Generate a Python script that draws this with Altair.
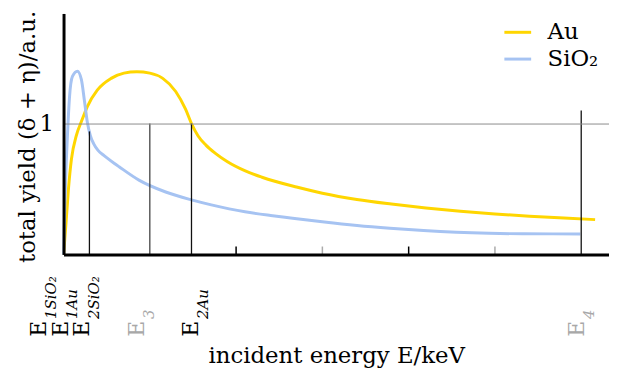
import altair as alt
import pandas as pd

# ---- data ----
au_E = [0, 0.015, 0.034, 0.057, 0.092, 0.149, 0.207, 0.276, 0.391, 0.552, 0.70, 0.85,
        1.0, 1.15, 1.30, 1.414, 1.483, 1.56, 1.65, 1.76, 1.90, 2.10, 2.30, 2.70, 3.0,
        3.4, 3.8, 4.2, 4.6, 5.0, 5.4, 5.8, 6.161]
au_Y = [0, 0.12, 0.29, 0.50, 0.73, 0.91, 1.015, 1.13, 1.255, 1.345, 1.385, 1.395,
        1.385, 1.345, 1.245, 1.11, 1.0, 0.905, 0.835, 0.772, 0.708, 0.64, 0.59, 0.515, 0.468,
        0.42, 0.385, 0.355, 0.33, 0.309, 0.292, 0.278, 0.266]

si_E = [0, 0.012, 0.023, 0.046, 0.069, 0.103, 0.161, 0.207, 0.241, 0.276, 0.31, 0.35,
        0.40, 0.47, 0.586, 0.644, 0.874, 1.184, 1.483, 1.713, 2.103, 2.4, 2.632, 3.023,
        3.402, 3.782, 4.172, 4.552, 4.931, 5.322, 5.989]
si_Y = [0, 0.30, 0.55, 0.92, 1.20, 1.36, 1.40, 1.335, 1.18, 1.01, 0.91, 0.845,
        0.795, 0.755, 0.697, 0.670, 0.568, 0.477, 0.417, 0.379, 0.326, 0.298, 0.279, 0.248,
        0.222, 0.201, 0.183, 0.170, 0.162, 0.158, 0.157]

materials = ["Au", "SiO\u2082"]

# vertical marker lines
vl_E = [0.30, 1.0, 1.483, 6.0]
vl_top = [0.94, 1.0, 1.0, 1.10]
vl_kind = ["dark", "mid", "dark", "dark"]

# x axis ticks
tick_E = [2, 3, 4, 5]
tick_kind = ["major", "minor", "major", "minor"]

# energy labels
lab_E = [-0.201, 0.046, 0.293, 0.937, 1.557, 6.029]
lab_main = ["E", "E", "E", "E", "E", "E"]
lab_sub = ["1SiO\u2082", "1Au", "2SiO\u2082", "3", "2Au", "4"]
lab_kind = ["dark", "dark", "dark", "light", "dark", "light"]

# ---- build tables ----
curves = pd.DataFrame(
    {"E": au_E + si_E,
     "Y": au_Y + si_Y,
     "material": [materials[0]] * len(au_E) + [materials[1]] * len(si_E),
     "order": list(range(len(au_E))) + list(range(len(si_E)))}
)
vlines = pd.DataFrame({"E": vl_E, "Y": [0] * len(vl_E), "top": vl_top, "kind": vl_kind})
ticks = pd.DataFrame({"E": tick_E, "kind": tick_kind})
labels = pd.DataFrame({"E": lab_E, "main": lab_main, "sub": lab_sub, "kind": lab_kind})

FONT = "DejaVu Serif"
GOLD = "#ffd600"
BLUE = "#a6c3f2"

xscale = alt.Scale(domain=[0, 6.322], nice=False, zero=False)
yscale = alt.Scale(domain=[0, 1.841], nice=False, zero=False)

xaxis = alt.Axis(
    domain=True, domainColor="black", domainWidth=3, labels=False, ticks=False, grid=False,
    title="incident energy E/keV", titleFont=FONT, titleFontSize=23, titleFontWeight="normal",
    titleColor="black", titleX=275, titleY=109, titleBaseline="alphabetic", titleAlign="center",
    zindex=1,
)
yaxis = alt.Axis(
    values=[1], domain=True, domainColor="black", domainWidth=3, ticks=False, tickSize=0,
    labelPadding=10, labelFont=FONT, labelFontSize=23, labelColor="black",
    grid=True, gridColor="#8c8c8c", gridWidth=1,
    title="total yield (\u03b4 + \u03b7)/a.u.", titleFont=FONT, titleFontSize=23,
    titleFontWeight="normal", titleColor="black", titleX=-29, titleY=124, titleAngle=270,
    titleAlign="center", titleBaseline="alphabetic", zindex=1,
)

X = alt.X("E:Q", scale=xscale, axis=xaxis)

lines = alt.Chart(curves).mark_line(strokeWidth=3, interpolate="monotone").encode(
    x=X,
    y=alt.Y("Y:Q", scale=yscale, axis=yaxis),
    color=alt.Color(
        "material:N",
        scale=alt.Scale(domain=materials, range=[GOLD, BLUE]),
        legend=alt.Legend(
            title=None, orient="none", legendX=443, legendY=4, padding=0,
            symbolType="stroke", symbolSize=729, symbolStrokeWidth=3,
            labelFont=FONT, labelFontSize=23, labelColor="black", labelOffset=15,
            rowPadding=0,
        ),
    ),
    order="order:Q",
)

rules = alt.Chart(vlines).mark_rule(strokeWidth=1.3).encode(
    x=X,
    y=alt.Y("Y:Q", scale=yscale, axis=yaxis),
    y2="top:Q",
    stroke=alt.Stroke("kind:N", scale=alt.Scale(domain=["dark", "mid"], range=["#111111", "#444444"]), legend=None),
)

tickmarks = alt.Chart(ticks).mark_rule(strokeWidth=1.5).encode(
    x=X,
    y=alt.value(243),
    y2=alt.value(235),
    stroke=alt.Stroke("kind:N", scale=alt.Scale(domain=["major", "minor"], range=["#000000", "#aaaaaa"]), legend=None),
)

labcolor = alt.Color("kind:N", scale=alt.Scale(domain=["dark", "light"], range=["#000000", "#a8a8a8"]), legend=None)

lab_main_layer = alt.Chart(labels).mark_text(
    angle=270, align="left", baseline="alphabetic", font=FONT, fontSize=22
).encode(x=X, y=alt.value(326), text="main:N", fill=labcolor)

lab_sub_layer = alt.Chart(labels).mark_text(
    angle=270, align="left", baseline="alphabetic", font=FONT, fontSize=15,
    fontStyle="italic", dx=18, dy=10
).encode(x=X, y=alt.value(326), text="sub:N", fill=labcolor)

chart = alt.layer(lines, rules, tickmarks, lab_main_layer, lab_sub_layer).resolve_scale(
    color="independent", stroke="independent", fill="independent"
).properties(
    width=550, height=243,
    autosize=alt.AutoSizeParams(type="none"),
    padding={"left": 56, "top": 4, "right": 0, "bottom": 115},
).configure_view(stroke=None)

chart.save("out.html", embed_options={"renderer": "svg", "actions": False})
